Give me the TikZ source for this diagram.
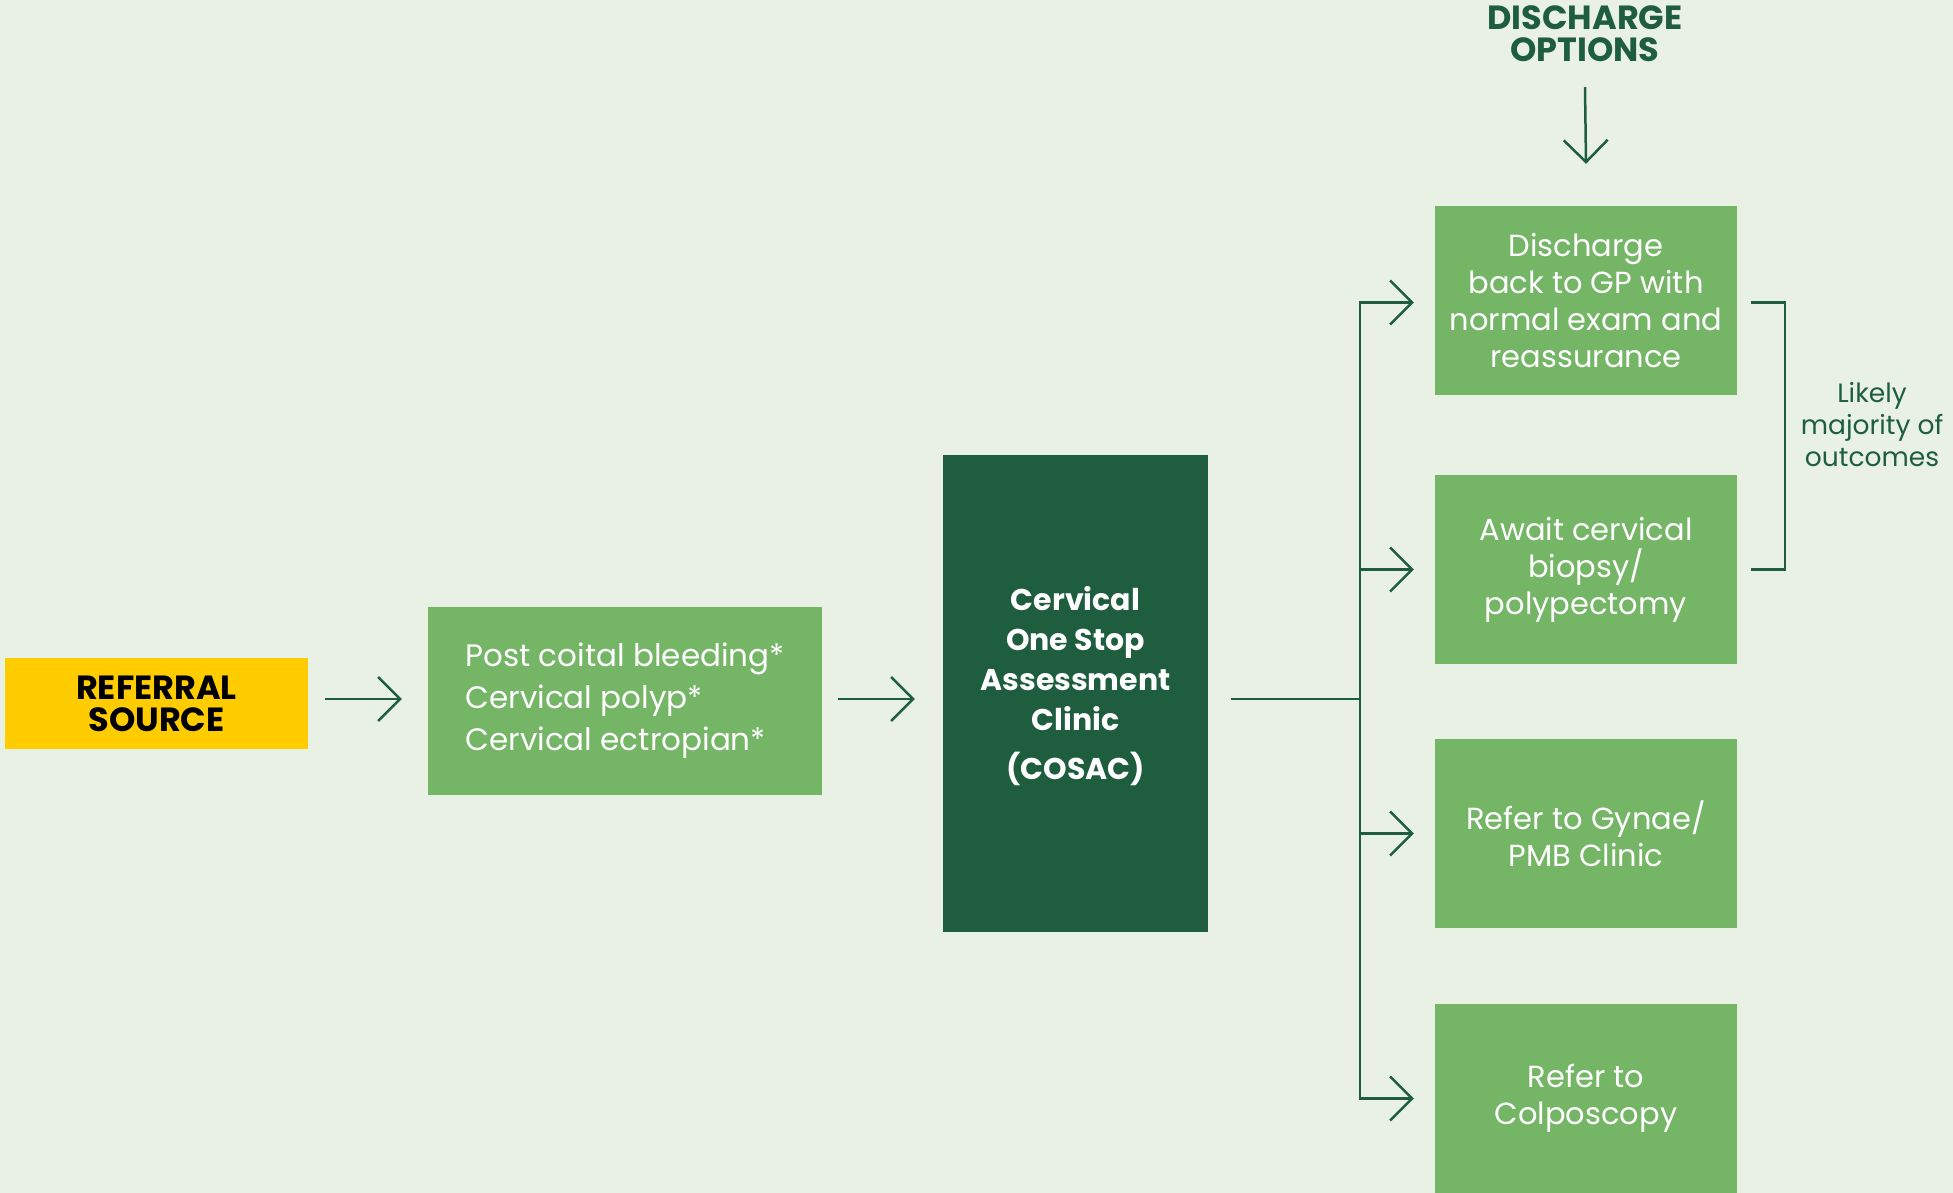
\documentclass[tikz,border=0pt]{standalone}
\usepackage{fontspec}
\setmainfont{Poppins}
\usetikzlibrary{arrows.meta}
\definecolor{bg}{HTML}{E9F1E5}
\definecolor{boxg}{HTML}{74B566}
\definecolor{darkg}{HTML}{1E5E3E}
\definecolor{yel}{HTML}{FFCC00}
\begin{document}
\begin{tikzpicture}[x=1pt,y=-1pt,
  conn/.style={draw=darkg, line width=2.5pt},
  arr/.style={conn, -{Straight Barb[length=22pt,width=44pt,line width=2.5pt]}},
  gbox/.style={fill=boxg, text=white, minimum width=302pt, minimum height=189pt, align=center, inner sep=0pt, font=\fontsize{30.5}{37}\selectfont},
  head/.style={text=darkg, align=center, inner sep=0pt, font=\bfseries\fontsize{33.5}{32}\selectfont}
]
\useasboundingbox[fill=bg] (0,0) rectangle (1953,1193);

\node[fill=yel, minimum width=303pt, minimum height=91pt, inner sep=0pt, align=center, font=\bfseries\fontsize{33.5}{32}\selectfont] (ref) at (156.5,703.5) {REFERRAL\\SOURCE};

\node[fill=boxg, text=white, minimum height=188pt, minimum width=394pt, inner sep=0pt, align=left, font=\fontsize{31}{42}\selectfont] (sym) at (625,701) {Post coital bleeding*\\Cervical polyp*\\Cervical ectropian*};

\node[fill=darkg, text=white, minimum width=265pt, minimum height=477pt, inner sep=0pt, align=center, text depth=22pt, font=\bfseries\fontsize{30}{40}\selectfont] (cosac) at (1075.5,693.5) {Cervical\\One Stop\\Assessment\\Clinic\\[9pt](COSAC)};

\node[gbox] (b1) at (1586,300.5) {Discharge\\back to GP with\\normal exam and\\reassurance};
\node[gbox] (b2) at (1586,569.5) {Await cervical\\biopsy/\\polypectomy};
\node[gbox] (b3) at (1586,833.5) {Refer to Gynae/\\PMB Clinic};
\node[gbox] (b4) at (1586,1098.5) {Refer to\\Colposcopy};

\node[head] (disc) at (1585,34) {DISCHARGE\\OPTIONS};
\node[text=darkg, align=center, inner sep=0pt, font=\fontsize{26.5}{32}\selectfont] (likely) at (1872,425) {Likely\\majority of\\outcomes};

\coordinate (br) at (1360,699);
\coordinate (bk) at (1785,0);

\draw[arr, shorten <=17pt, shorten >=26pt] (ref.east |- br) -- (sym.west |- br);
\draw[arr, shorten <=16pt, shorten >=28pt] (sym.east |- br) -- (cosac.west |- br);
\draw[conn, shorten <=23pt] (cosac.east |- br) -- (br);
\draw[arr] (br) |- ([xshift=-21pt,yshift=-2pt]b1.west);
\draw[arr] (br) |- ([xshift=-21pt]b4.west);
\draw[arr] (br |- b2.west) -- ([xshift=-21pt]b2.west);
\draw[arr] (br |- b3.west) -- ([xshift=-21pt]b3.west);
\draw[arr] ([yshift=-25pt]disc.south) -- ([yshift=42pt]b1.north);
\draw[conn] ([xshift=14pt,yshift=-2pt]b1.east) -| (bk |- b2.east) -- ([xshift=14pt]b2.east);
\end{tikzpicture}
\end{document}
